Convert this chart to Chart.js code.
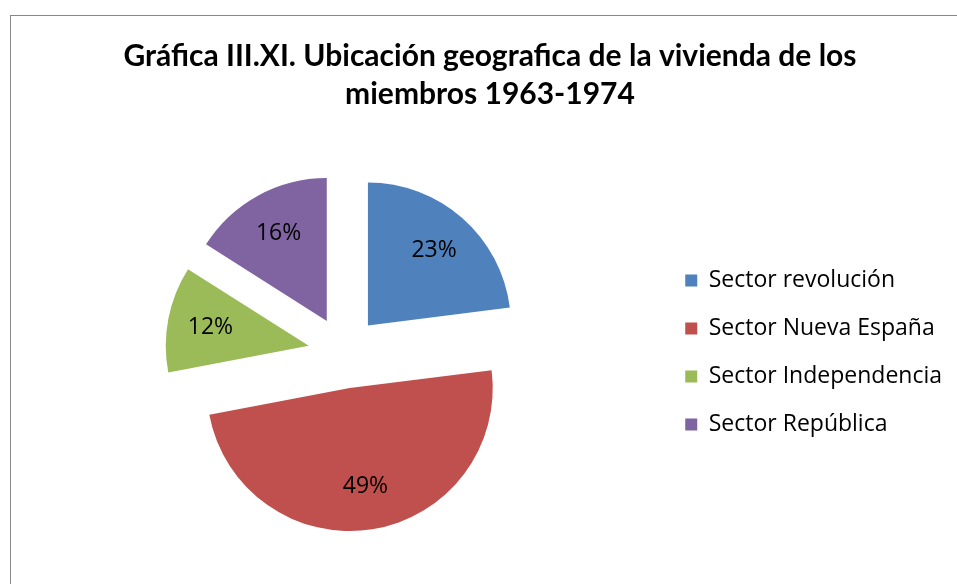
<!DOCTYPE html>
<html>
<head>
<meta charset="utf-8">
<script src="https://cdn.jsdelivr.net/npm/chart.js@4.4.1/dist/chart.umd.min.js"></script>
<style>
  html, body { margin: 0; padding: 0; background: #fff; overflow: hidden; }
  #frame { position: absolute; left: 10px; top: 15px; width: 1000px; height: 700px; border: 1px solid #888; }
  #wrap { position: absolute; left: 0; top: 0; width: 980px; height: 600px; }
</style>
</head>
<body>
<div id="frame"></div>
<div id="wrap"><canvas id="pie"></canvas></div>
<script>
const categories = ['Sector revolución', 'Sector Nueva España', 'Sector Independencia', 'Sector República'];
const shares = [23, 49, 12, 16];
const colors = ['#4F81BD', '#C0504D', '#9BBB59', '#8064A2'];
const titleLines = ['Gráfica III.XI. Ubicación geografica de la vivienda de los', 'miembros 1963-1974'];

const EXPLODE = 36;     // how far every slice is pulled out
const RADIUS = 143;
const TITLE_FONT = 'Lato, "Open Sans", sans-serif';
const FONT = '"Open Sans", Lato, sans-serif';

// every slice moved out by the same distance (chart.js offset also grows big slices)
const explodePlugin = {
    id: 'explode',
    beforeDatasetDraw(chart, args) {
        args.meta.data.forEach(arc => {
            if (arc._exploded) return;
            const draw = arc.draw.bind(arc);
            arc.draw = ctx => {
                const mid = (arc.startAngle + arc.endAngle) / 2;
                ctx.save();
                ctx.translate(Math.cos(mid) * EXPLODE, Math.sin(mid) * EXPLODE);
                draw(ctx);
                ctx.restore();
            };
            arc._exploded = true;
        });
    }
};

const pctLabels = {
    id: 'pctLabels',
    afterDatasetsDraw(chart) {
        const ctx = chart.ctx;
        const meta = chart.getDatasetMeta(0);
        ctx.save();
        ctx.font = '23px ' + FONT;
        ctx.fillStyle = '#000';
        ctx.textAlign = 'center';
        ctx.textBaseline = 'middle';
        meta.data.forEach((arc, i) => {
            const mid = (arc.startAngle + arc.endAngle) / 2;
            const r = EXPLODE + arc.outerRadius * 0.7;
            ctx.fillText(shares[i] + '%', arc.x + Math.cos(mid) * r, arc.y + Math.sin(mid) * r);
        });
        ctx.restore();
    }
};

new Chart(document.getElementById('pie'), {
    type: 'pie',
    data: {
        labels: categories,
        datasets: [{ data: shares, backgroundColor: colors, borderWidth: 0 }]
    },
    options: {
        responsive: true,
        maintainAspectRatio: false,
        animation: false,
        radius: RADIUS,
        layout: { padding: { left: 28, right: 28, top: 18, bottom: 8 } },
        plugins: {
            tooltip: { enabled: false },
            title: {
                display: true,
                text: titleLines,
                color: '#000',
                font: { family: TITLE_FONT, size: 30, weight: 'bold', lineHeight: 1.267 },
                padding: { top: 19, bottom: 0 }
            },
            legend: {
                position: 'right',
                fullSize: false,
                labels: {
                    color: '#000',
                    font: { family: FONT, size: 23 },
                    boxWidth: 12,
                    boxHeight: 12,
                    padding: 25
                }
            }
        }
    },
    plugins: [explodePlugin, pctLabels]
});
</script>
</body>
</html>
